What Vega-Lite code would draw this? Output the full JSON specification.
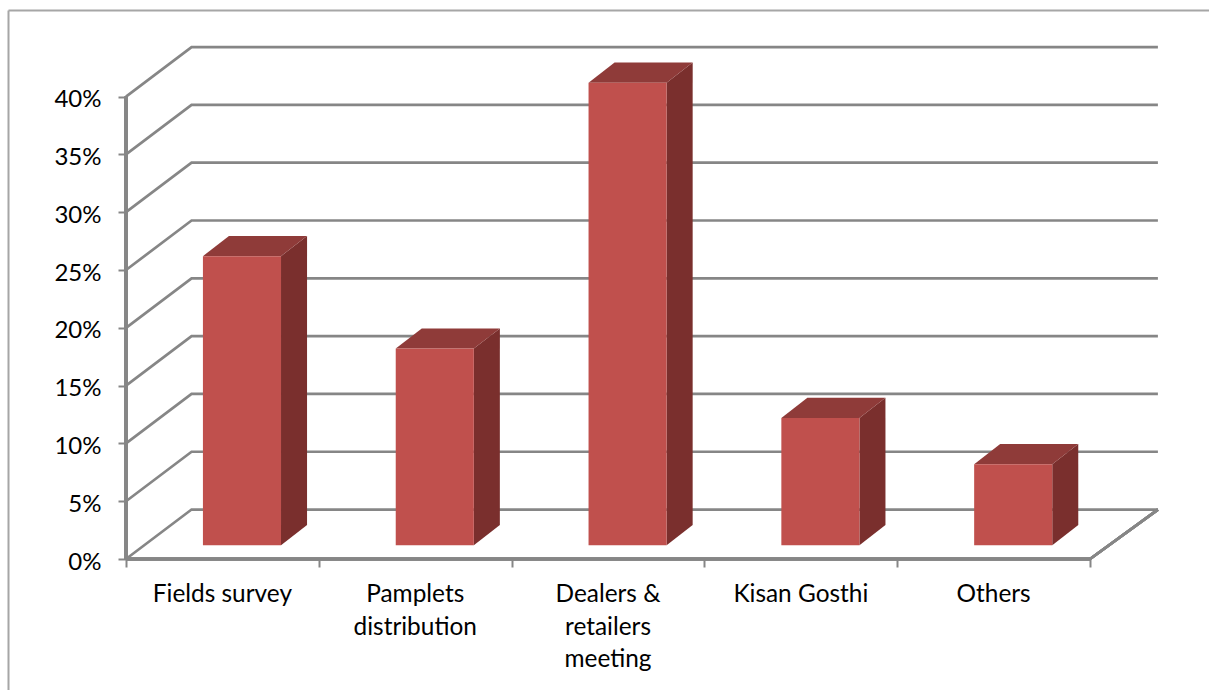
{
  "$schema": "https://vega.github.io/schema/vega-lite/v6.json",
  "width": 1201,
  "height": 680,
  "padding": {"left": 8, "top": 10, "right": 0, "bottom": 0},
  "autosize": {"type": "none"},
  "background": "white",
  "config": {"view": {"stroke": null}, "font": "Lato"},
  "data": {
    "values": [
      {"category": "Fields survey", "value": 25},
      {"category": "Pamplets\ndistribution", "value": 17},
      {"category": "Dealers &\nretailers\nmeeting", "value": 40},
      {"category": "Kisan Gosthi", "value": 11},
      {"category": "Others", "value": 7}
    ]
  },
  "transform": [
    {"window": [{"op": "row_number", "as": "i"}]},
    {"calculate": "datum.i - 1 + 0.399", "as": "xl"},
    {"calculate": "datum.i - 1 + 0.804", "as": "xr"},
    {"calculate": "datum.i - 0.5", "as": "xc"},
    {"calculate": "1.2", "as": "floor"},
    {"calculate": "datum.value + 1.2", "as": "top"},
    {"calculate": "[0, 1]", "as": "lift"}
  ],
  "resolve": {"axis": {"x": "independent", "y": "independent"}},
  "layer": [
    {
      "description": "Walls and floor of the box, one polyline per percent level",
      "data": {"values": [{"level": 0}, {"level": 5}, {"level": 10}, {"level": 15}, {"level": 20}, {"level": 25}, {"level": 30}, {"level": 35}, {"level": 40}]},
      "transform": [
        {"calculate": "[0, 0.34, 5.352]", "as": "px"},
        {"flatten": ["px"]},
        {"calculate": "datum.level + (datum.px > 0 ? 4.28 : 0)", "as": "py"}
      ],
      "mark": {"type": "line", "stroke": "#868686", "strokeWidth": 2.7},
      "encoding": {
        "x": {
          "field": "px", "type": "quantitative",
          "scale": {"domain": [-0.612, 5.617], "nice": false, "zero": false},
          "axis": {"orient": "bottom", "offset": -131, "values": [0, 1, 2, 3, 4, 5], "labels": false, "domain": false, "grid": false, "title": null, "tickSize": 8, "tickColor": "#868686", "tickWidth": 2}
        },
        "y": {
          "field": "py", "type": "quantitative",
          "scale": {"domain": [-11.33, 47.49], "nice": false, "zero": false},
          "axis": {"orient": "left", "offset": -118, "values": [0, 5, 10, 15, 20, 25, 30, 35, 40], "labelExpr": "datum.value + '%'", "labelFont": "Lato", "labelFontSize": 24, "labelColor": "#000000", "labelPadding": 17, "labelOffset": 3, "domain": false, "grid": false, "title": null, "tickSize": 8, "tickColor": "#868686", "tickWidth": 2}
        },
        "detail": {"field": "level"}
      }
    },
    {
      "description": "Vertical value axis line; its own axes trace the outer frame",
      "mark": {"type": "rule", "stroke": "#868686", "strokeWidth": 3.2},
      "encoding": {
        "x": {"datum": 0, "type": "quantitative", "axis": {"orient": "top", "labels": false, "ticks": false, "grid": false, "title": null, "domain": true, "domainColor": "#a6a6a6", "domainWidth": 2}},
        "y": {"datum": 0, "type": "quantitative", "axis": {"orient": "left", "labels": false, "ticks": false, "grid": false, "title": null, "domain": true, "domainColor": "#a6a6a6", "domainWidth": 2}},
        "y2": {"datum": 40}
      }
    },
    {
      "description": "Front edge of the floor",
      "mark": {"type": "rule", "stroke": "#868686", "strokeWidth": 3.2},
      "encoding": {
        "x": {"datum": 0, "type": "quantitative", "axis": null},
        "x2": {"datum": 5},
        "y": {"datum": 0, "type": "quantitative", "axis": null}
      }
    },
    {
      "description": "Right edge of the floor",
      "mark": {"type": "rule", "stroke": "#868686", "strokeWidth": 2.7},
      "encoding": {
        "x": {"datum": 5, "type": "quantitative", "axis": null},
        "x2": {"datum": 5.352},
        "y": {"datum": 0, "type": "quantitative", "axis": null},
        "y2": {"datum": 4.28}
      }
    },
    {
      "description": "Right side of each bar",
      "transform": [
        {"flatten": ["lift"]},
        {"calculate": "datum.xr + 0.135 * datum.lift", "as": "sx"},
        {"calculate": "datum.top + 1.75 * datum.lift", "as": "sy"},
        {"calculate": "datum.floor + 1.75 * datum.lift", "as": "sy2"}
      ],
      "mark": {"type": "area", "orient": "vertical", "color": "#7A2F2D"},
      "encoding": {
        "x": {"field": "sx", "type": "quantitative", "axis": null},
        "y": {"field": "sy", "type": "quantitative", "axis": null},
        "y2": {"field": "sy2"},
        "detail": {"field": "category"}
      }
    },
    {
      "description": "Top of each bar",
      "transform": [
        {"flatten": ["lift"]},
        {"calculate": "datum.xl + 0.135 * datum.lift", "as": "tx"},
        {"calculate": "datum.xr + 0.135 * datum.lift", "as": "tx2"},
        {"calculate": "datum.top + 1.75 * datum.lift", "as": "ty"}
      ],
      "mark": {"type": "area", "orient": "horizontal", "color": "#8F3B39"},
      "encoding": {
        "y": {"field": "ty", "type": "quantitative", "axis": null},
        "x": {"field": "tx", "type": "quantitative", "axis": null},
        "x2": {"field": "tx2"},
        "detail": {"field": "category"}
      }
    },
    {
      "description": "Front of each bar",
      "mark": {"type": "rect", "color": "#C0504D"},
      "encoding": {
        "x": {"field": "xl", "type": "quantitative", "axis": null},
        "x2": {"field": "xr"},
        "y": {"field": "top", "type": "quantitative", "axis": null},
        "y2": {"field": "floor"}
      }
    },
    {
      "description": "Category names under the floor",
      "mark": {"type": "text", "font": "Lato", "fontSize": 24.4, "color": "#000000", "lineBreak": "\n", "lineHeight": 32.5, "baseline": "top", "align": "center", "yOffset": 24},
      "encoding": {
        "x": {"field": "xc", "type": "quantitative", "axis": null},
        "y": {"datum": 0, "type": "quantitative", "axis": null},
        "text": {"field": "category"}
      }
    }
  ]
}
